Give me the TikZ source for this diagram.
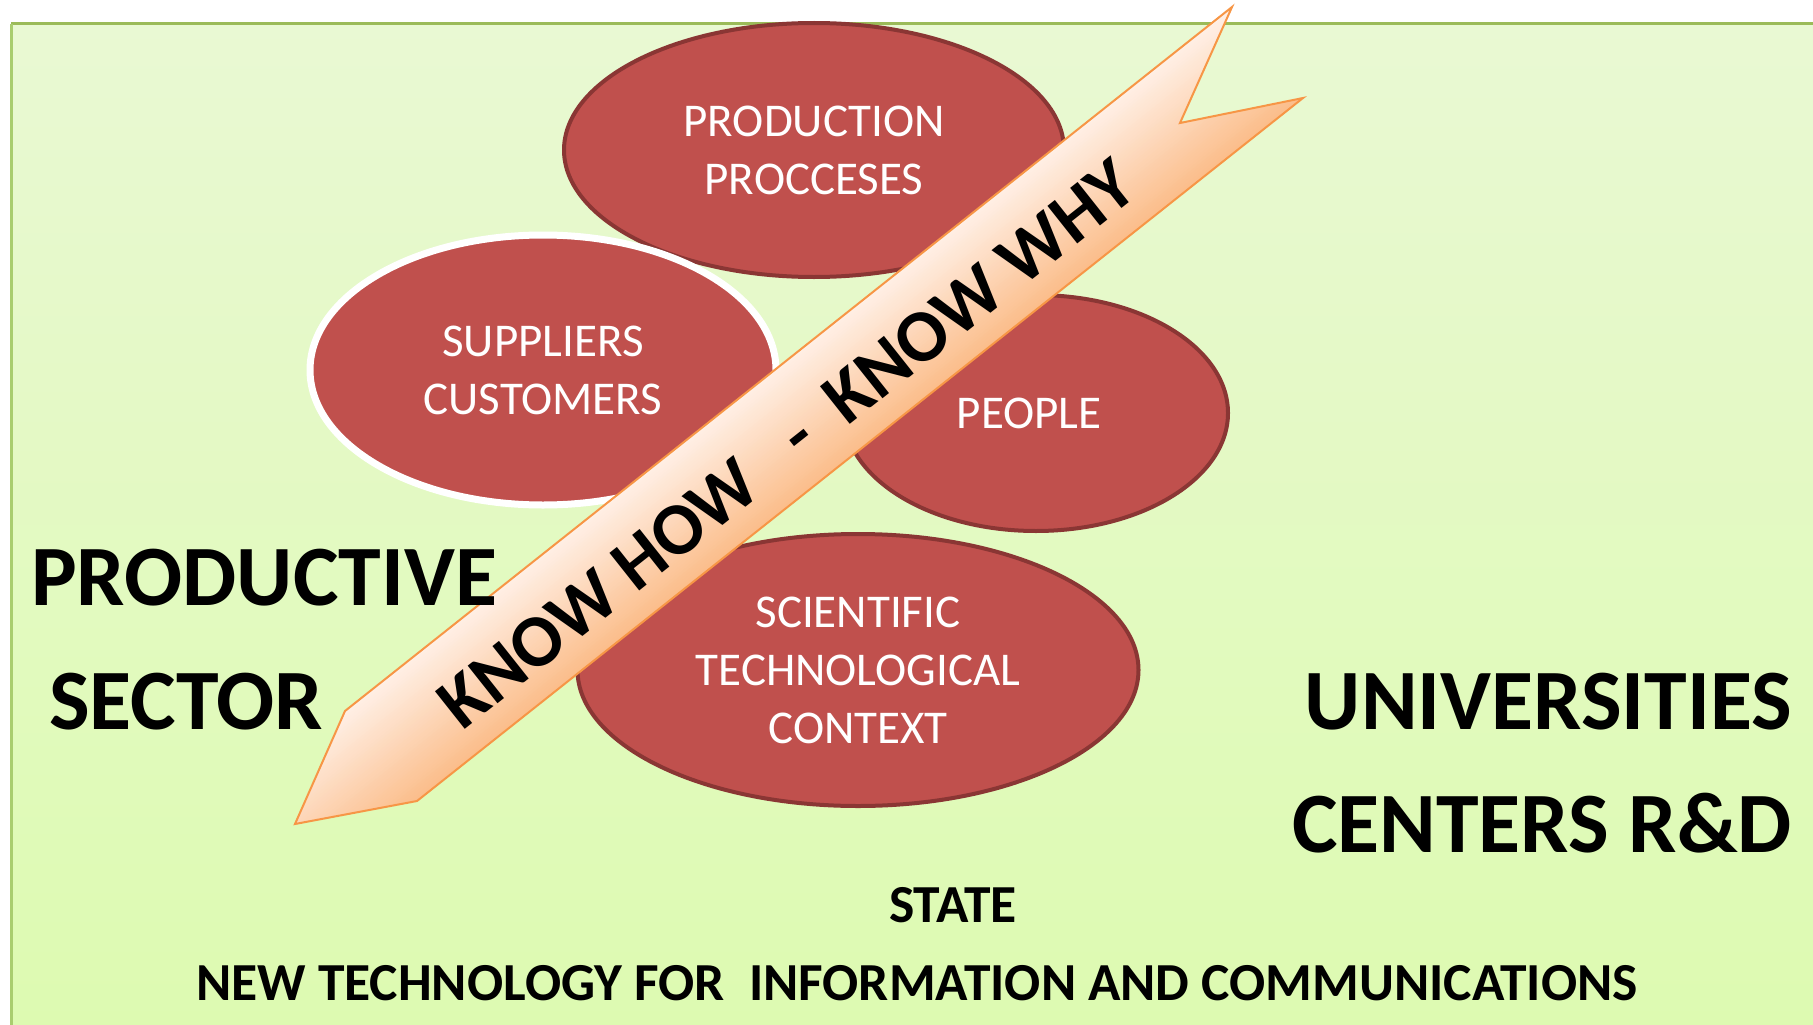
\documentclass[tikz,border=0pt]{standalone}
\usepackage{fontspec}
\setmainfont{Carlito}
\usetikzlibrary{shapes.geometric}
\definecolor{bgtop}{HTML}{E9F9D3}
\definecolor{bgbot}{HTML}{DDFAB1}
\definecolor{bgtopline}{HTML}{9BBB59}
\definecolor{bgleftline}{HTML}{A9CD6F}
\definecolor{blobfill}{HTML}{C0504D}
\definecolor{blobline}{HTML}{8A3634}
\definecolor{arrowlight}{HTML}{FFF0E6}
\definecolor{arrowdark}{HTML}{FBBD8A}
\definecolor{arrowline}{HTML}{F79646}
\tikzset{
  blob/.style={ellipse, fill=blobfill, draw=blobline, line width=4pt, inner sep=0pt,
    text=white, align=center, font=\fontsize{47}{58}\selectfont},
  biglabel/.style={inner sep=0pt, font=\bfseries\fontsize{86}{100}\selectfont},
  footlabel/.style={inner sep=0pt, font=\bfseries\fontsize{53.5}{60}\selectfont},
}
\begin{document}
\begin{tikzpicture}[x=1pt,y=-1pt]
\useasboundingbox (0,0) rectangle (1813,1025);
% background panel
\shade[top color=bgtop, bottom color=bgbot] (11,24) rectangle (1813,1025);
\draw[bgtopline, line width=3pt] (11,24) -- (1813,24);
\draw[bgleftline, line width=3pt] (11,24) -- (11,1025);

% ellipses
\node[blob, minimum width=500, minimum height=254] (prod) at (814,150) {PRODUCTION\\PROCCESES};
\node[blob, draw=white, line width=7pt, minimum width=466, minimum height=270] (supp) at (543,370) {SUPPLIERS\\CUSTOMERS};
\node[blob, minimum width=384, minimum height=236] (people) at (1036,413) {\hspace*{-14pt}PEOPLE};
\node[blob, minimum width=561, minimum height=272] (sci) at (858,670) {SCIENTIFIC\\TECHNOLOGICAL\\CONTEXT};

% arrow with gradient across its width
\begin{scope}
\clip (1232,7) -- (1180,123) -- (1303,98) -- (417,801) -- (295,824) -- (345,711) -- cycle;
\foreach \k in {0,...,46}{
  \pgfmathsetmacro{\v}{\k*2.5}
  \pgfmathtruncatemacro{\p}{100-\k*100/46}
  \fill[arrowlight!\p!arrowdark]
    ({345+\v*0.6217-1500*0.7833},{711+\v*0.7833+1500*0.6217}) --
    ({345+\v*0.6217+1500*0.7833},{711+\v*0.7833-1500*0.6217}) --
    ({345+200*0.6217+1500*0.7833},{711+200*0.7833-1500*0.6217}) --
    ({345+200*0.6217-1500*0.7833},{711+200*0.7833+1500*0.6217}) -- cycle;
}
\end{scope}
\draw[arrowline, line width=2pt, line join=miter]
  (1232,7) -- (1180,123) -- (1303,98) -- (417,801) -- (295,824) -- (345,711) -- cycle;
\node[inner sep=0pt, rotate=38.4, font=\bfseries\fontsize{74}{80}\selectfont] (know) at (787,444)
  {KNOW HOW~~~-~~KNOW WHY};

% side labels
\node[biglabel, anchor=west] (prodsec1) at (31,578) {PRODUCTIVE};
\node[biglabel, anchor=west] (prodsec2) at (49,702) {SECTOR};
\node[biglabel, anchor=east] (univ1) at (1792,702) {UNIVERSITIES};
\node[biglabel, anchor=east] (univ2) at (1792,823) {CENTERS R\&D};

% bottom labels
\node[footlabel] (state) at (953,905) {STATE};
\node[footlabel] (ntic) at (917,983) {NEW TECHNOLOGY FOR~~INFORMATION AND COMMUNICATIONS};
\end{tikzpicture}
\end{document}
